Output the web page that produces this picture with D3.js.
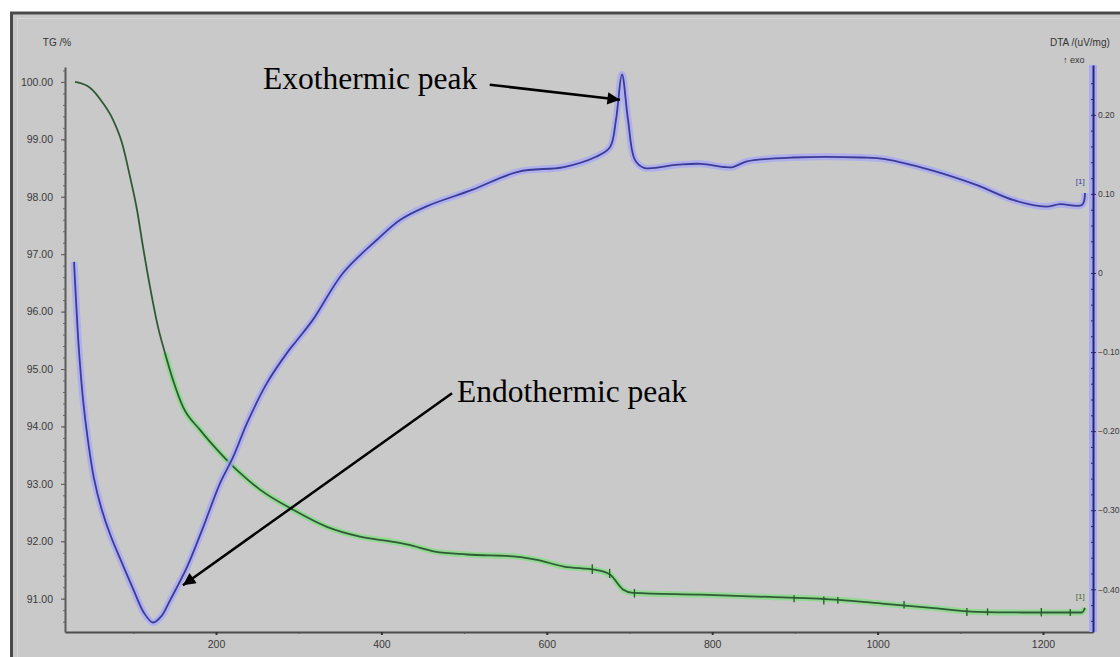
<!DOCTYPE html>
<html>
<head>
<meta charset="utf-8">
<script src="https://cdn.jsdelivr.net/npm/d3@7"></script>
<style>
  body { margin: 0; background: #fff; }
  svg { display: block; }
  .tick text { font-family: 'Liberation Sans', Arial, sans-serif; font-size: 10.5px; fill: #3a3a3a; }
</style>
</head>
<body>
<svg class="face" width="1120" height="657"></svg>
<script>
// TG curve: temperature (°C), mass (%)
const tgTemp = [29.5, 47.6, 63.4, 75.5, 86.3, 96, 104.5, 111.7, 120.2, 129.9, 138.3, 148, 160.1, 180.7, 204.8, 229, 253.2, 293.1, 334.2, 374.1, 414, 432.2, 464.8, 503.5, 565.2, 586.9, 620.8, 659.5, 676.4, 692.1, 704.2, 786.5, 869.9, 953.3, 1008.9, 1064.6, 1120.2, 1175.8, 1247.2, 1250.8]
const tgMass = [100.0, 99.90, 99.63, 99.34, 98.94, 98.35, 97.77, 97.13, 96.43, 95.73, 95.28, 94.81, 94.34, 93.94, 93.54, 93.19, 92.90, 92.55, 92.25, 92.08, 91.99, 91.94, 91.82, 91.77, 91.73, 91.68, 91.56, 91.50, 91.42, 91.16, 91.10, 91.07, 91.03, 90.98, 90.91, 90.84, 90.77, 90.76, 90.76, 90.84]

// small noise spikes on the TG trace: temperature, low, high
const spikeTemp = [655, 676, 706, 899, 935, 952, 1032, 1108, 1133, 1198, 1233]
const spikeLow  = [91.43, 91.36, 91.02, 90.94, 90.90, 90.91, 90.83, 90.70, 90.71, 90.69, 90.70]
const spikeHigh = [91.60, 91.52, 91.17, 91.06, 91.04, 91.03, 90.96, 90.84, 90.83, 90.84, 90.82]

// DTA curve: temperature (°C), signal (uV/mg)
const dtaTemp = [28.3, 30.7, 34.3, 39.2, 45.2, 52.5, 61.5, 72.5, 86, 100, 113, 123.8, 134, 144.4, 164.9, 184.3, 204.8, 220.6, 237.5, 261.7, 285.9, 297.9, 317.3, 353.6, 394.7, 422.5, 453.9, 509.6, 565.2, 620.8, 659.5, 676.4, 683.7, 690.9, 698.2, 706.6, 717.5, 758.6, 786.5, 814.3, 825.1, 842.1, 897.7, 981.1, 1008.9, 1064.6, 1120.2, 1164.9, 1203.6, 1220.6, 1247.2, 1250.8]
const dtaVal = [0.014, -0.034, -0.098, -0.160, -0.212, -0.260, -0.298, -0.332, -0.366, -0.400, -0.430, -0.442, -0.434, -0.414, -0.372, -0.322, -0.266, -0.233, -0.190, -0.139, -0.101, -0.085, -0.059, 0.000, 0.042, 0.067, 0.084, 0.105, 0.128, 0.134, 0.147, 0.159, 0.194, 0.251, 0.194, 0.143, 0.133, 0.137, 0.138, 0.134, 0.134, 0.141, 0.146, 0.146, 0.144, 0.130, 0.111, 0.092, 0.084, 0.087, 0.086, 0.101]

// tick values
const xTicks = [200, 400, 600, 800, 1000, 1200]
const tgTicks = [91, 92, 93, 94, 95, 96, 97, 98, 99, 100]
const dtaTicks = [-0.4, -0.3, -0.2, -0.1, 0, 0.1, 0.2]

const svg = d3.select('.face')
const width = +svg.attr('width')
const height = +svg.attr('height')

// panel background and frame
svg.append('rect').attr('x', 10).attr('y', 12).attr('width', width - 10).attr('height', height - 12).attr('fill', '#c9c9c9')
svg.append('line').attr('x1', 10).attr('x2', width).attr('y1', 13).attr('y2', 13).attr('stroke', '#4a4a4a').attr('stroke-width', 3)
svg.append('line').attr('x1', 11.5).attr('x2', 11.5).attr('y1', 12).attr('y2', height).attr('stroke', '#4a4a4a').attr('stroke-width', 3)
svg.append('line').attr('x1', 17).attr('x2', width).attr('y1', 18.5).attr('y2', 18.5).attr('stroke', '#d6d6d6').attr('stroke-width', 1)
svg.append('line').attr('x1', 17.5).attr('x2', 17.5).attr('y1', 18).attr('y2', height).attr('stroke', '#d6d6d6').attr('stroke-width', 1)

const xScale = d3.scaleLinear().domain([17.4, 1260.5]).range([65, 1093])
const yTG = d3.scaleLinear().domain([90.42, 100.26]).range([632, 67])
const yDTA = d3.scaleLinear().domain([-0.454, 0.263]).range([632, 65])

// x axis
const xAxis = svg.append('g')
  .attr('transform', `translate(0,${632})`)
  .call(d3.axisBottom(xScale).tickValues(xTicks).tickFormat(d3.format('d')).tickSize(3).tickSizeOuter(0).tickPadding(6))
xAxis.select('.domain').attr('stroke', '#4d4d4d').attr('stroke-width', 2)
xAxis.selectAll('.tick line').attr('stroke', '#333').attr('stroke-width', 2)
svg.append('g')
  .attr('transform', `translate(0,${632})`)
  .call(d3.axisBottom(xScale).tickValues(d3.range(100, 1260, 200)).tickSize(2).tickFormat(''))
  .call(g => g.select('.domain').remove())
  .selectAll('.tick line').attr('stroke', '#555')

// left TG axis
const leftAxis = svg.append('g')
  .attr('transform', `translate(${65},0)`)
  .call(d3.axisLeft(yTG).tickValues(tgTicks).tickFormat(d3.format('.2f')).tickSize(4).tickSizeOuter(0).tickPadding(8))
leftAxis.select('.domain').attr('stroke', '#5a5a5a').attr('stroke-width', 2)
leftAxis.selectAll('.tick line').attr('stroke', '#555')
svg.append('g')
  .attr('transform', `translate(${65},0)`)
  .call(d3.axisLeft(yTG).tickValues(d3.range(90.6, 100.2, 0.2)).tickSize(2).tickFormat(''))
  .call(g => g.select('.domain').remove())
  .selectAll('.tick line').attr('stroke', '#666')

// right DTA axis
svg.append('line')
  .attr('x1', 1093).attr('x2', 1093).attr('y1', yDTA.range()[1]).attr('y2', yDTA.range()[0])
  .attr('stroke', '#aaaaf2').attr('stroke-width', 8)
const rightAxis = svg.append('g')
  .attr('transform', `translate(${1093},0)`)
  .call(d3.axisRight(yDTA).tickValues(dtaTicks).tickFormat(d => d === 0 ? '0' : d3.format('.2f')(d)).tickSize(3).tickSizeOuter(0).tickPadding(2))
rightAxis.select('.domain').attr('stroke', '#26266e').attr('stroke-width', 2)
rightAxis.selectAll('.tick line').attr('stroke', '#26266e')
rightAxis.selectAll('.tick text').style('font-size', '8.5px')
svg.append('g')
  .attr('transform', `translate(${1093},0)`)
  .call(d3.axisLeft(yDTA).tickValues(d3.range(-0.44, 0.26, 0.02)).tickSize(2).tickFormat(''))
  .call(g => g.select('.domain').remove())
  .selectAll('.tick line').attr('stroke', '#26266e')

// axis titles
svg.append('text').attr('x', 57).attr('y', 46).attr('text-anchor', 'middle')
  .attr('font-family', 'Liberation Sans, Arial, sans-serif').attr('font-size', 10).attr('fill', '#333')
  .text('TG /%')
svg.append('text').attr('x', 1050).attr('y', 46)
  .attr('font-family', 'Liberation Sans, Arial, sans-serif').attr('font-size', 10).attr('fill', '#333')
  .text('DTA /(uV/mg)')
svg.append('text').attr('x', 1063).attr('y', 63)
  .attr('font-family', 'Liberation Sans, Arial, sans-serif').attr('font-size', 9).attr('fill', '#333')
  .text('↑ exo')

// TG line
const tgData = tgTemp.map((t, i) => ({ t: t, v: tgMass[i] }))
const tgLine = d3.line().x(d => xScale(d.t)).y(d => yTG(d.v)).curve(d3.curveMonotoneX)
svg.append('path').datum(tgData.filter(d => d.t >= 138)).attr('d', tgLine)
  .attr('fill', 'none').attr('stroke', '#86dc86').attr('stroke-width', 6).attr('stroke-opacity', 0.8)
svg.selectAll('.spike')
  .data(spikeTemp.map((t, i) => ({ t: t, lo: spikeLow[i], hi: spikeHigh[i] })))
  .enter()
  .append('line')
  .attr('class', 'spike')
  .attr('x1', d => xScale(d.t)).attr('x2', d => xScale(d.t))
  .attr('y1', d => yTG(d.lo)).attr('y2', d => yTG(d.hi))
  .attr('stroke', '#1f5a1f').attr('stroke-width', 1.3)
svg.append('path').datum(tgData).attr('d', tgLine)
  .attr('fill', 'none').attr('stroke', '#2f5a36').attr('stroke-width', 1.8)

// DTA line
const dtaData = dtaTemp.map((t, i) => ({ t: t, v: dtaVal[i] }))
const dtaLine = d3.line().x(d => xScale(d.t)).y(d => yDTA(d.v)).curve(d3.curveCatmullRom.alpha(0.5))
svg.append('path').datum(dtaData).attr('d', dtaLine)
  .attr('fill', 'none').attr('stroke', '#a9a9f4').attr('stroke-width', 7).attr('stroke-opacity', 0.8)
svg.append('path').datum(dtaData).attr('d', dtaLine)
  .attr('fill', 'none').attr('stroke', '#3b3b96').attr('stroke-width', 1.8)

// curve end markers
svg.append('text').attr('x', xScale(1245)).attr('y', yDTA(0.112))
  .attr('font-family', 'Liberation Sans, Arial, sans-serif').attr('font-size', 8).attr('fill', '#4040a0').attr('text-anchor', 'middle')
  .text('[1]')
svg.append('text').attr('x', xScale(1245)).attr('y', yTG(90.99))
  .attr('font-family', 'Liberation Sans, Arial, sans-serif').attr('font-size', 8).attr('fill', '#3a6a3a').attr('text-anchor', 'middle')
  .text('[1]')

// annotations
svg.append('defs').append('marker')
  .attr('id', 'arrow').attr('viewBox', '0 0 10 10').attr('refX', 10).attr('refY', 5)
  .attr('markerWidth', 7).attr('markerHeight', 5).attr('orient', 'auto').attr('markerUnits', 'strokeWidth')
  .append('path').attr('d', 'M0,0 L10,5 L0,10 z').attr('fill', '#000')

const notes = [
  { label: 'Exothermic peak', tx: 256.8, ty: 0.233, x1: 531, y1: 0.238, x2: 688.5, y2: 0.219 },
  { label: 'Endothermic peak', tx: 491.4, ty: -0.163, x1: 485.4, y1: -0.152, x2: 160, y2: -0.395 }
]
notes.forEach(n => {
  svg.append('text').attr('x', xScale(n.tx)).attr('y', yDTA(n.ty))
    .attr('font-family', 'Liberation Serif, Times New Roman, serif').attr('font-size', 31.5).attr('fill', '#000')
    .text(n.label)
  svg.append('line')
    .attr('x1', xScale(n.x1)).attr('y1', yDTA(n.y1))
    .attr('x2', xScale(n.x2)).attr('y2', yDTA(n.y2))
    .attr('stroke', '#000').attr('stroke-width', 2.5).attr('marker-end', 'url(#arrow)')
})
</script>
</body>
</html>
